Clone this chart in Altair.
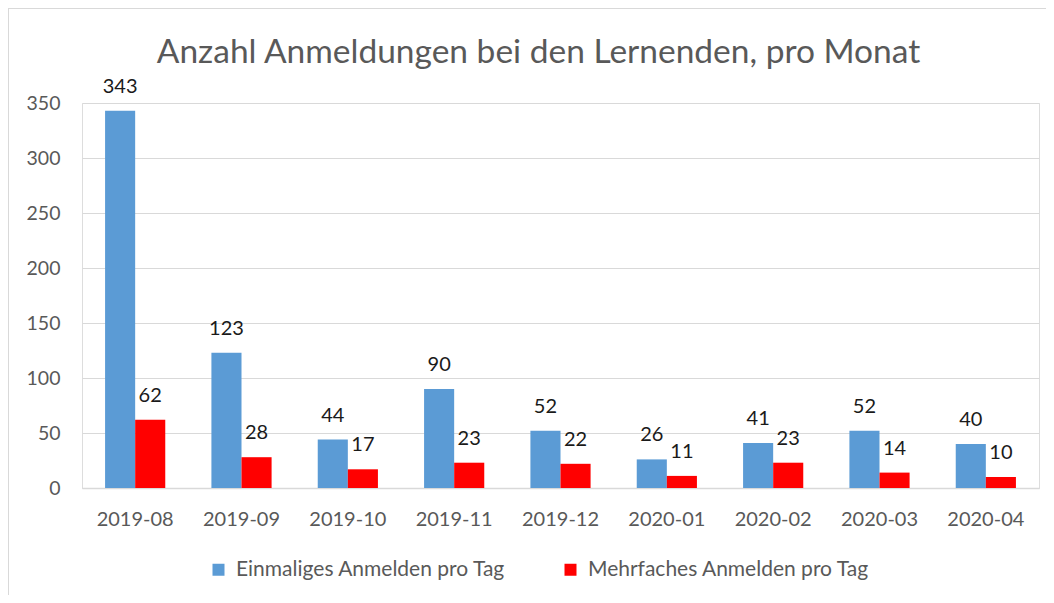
import altair as alt
import pandas as pd

months = ["2019-08", "2019-09", "2019-10", "2019-11", "2019-12",
          "2020-01", "2020-02", "2020-03", "2020-04"]
einmalig = [343, 123, 44, 90, 52, 26, 41, 52, 40]
mehrfach = [62, 28, 17, 23, 22, 11, 23, 14, 10]
series = ["Einmaliges Anmelden pro Tag", "Mehrfaches Anmelden pro Tag"]
colors = ["#5B9BD5", "#FF0000"]
y_ticks = [0, 50, 100, 150, 200, 250, 300, 350]
title = "Anzahl Anmeldungen bei den Lernenden, pro Monat"

rows = []
for m, a, b in zip(months, einmalig, mehrfach):
    rows.append({"Monat": m, "Serie": series[0], "Wert": a})
    rows.append({"Monat": m, "Serie": series[1], "Wert": b})
df = pd.DataFrame(rows)

FONT = "Lato"
W, H = 957, 385
PL, PT, PR, PB = 74, 95, 7, 107

x_enc = alt.X("Monat:N", sort=months,
              scale=alt.Scale(paddingInner=0.434, paddingOuter=0.217),
              axis=alt.Axis(title=None, labelAngle=0, labelFontSize=20,
                            labelColor="#595959", labelPadding=21, ticks=False,
                            tickSize=0, domainColor="#d9d9d9", domainWidth=1.5,
                            grid=False, labelFont=FONT))
xoff = alt.XOffset("Serie:N", sort=series)
y_enc = alt.Y("Wert:Q", scale=alt.Scale(domain=[0, 350]),
              axis=alt.Axis(values=y_ticks, title=None, domain=False, ticks=False,
                            tickSize=0, labelFontSize=19.5, labelColor="#595959",
                            labelPadding=22, gridColor="#d9d9d9", gridWidth=1.2,
                            labelFont=FONT))

base = alt.Chart(df)

bars = base.mark_bar().encode(
    x=x_enc, xOffset=xoff, y=y_enc,
    color=alt.Color("Serie:N", sort=series,
                    scale=alt.Scale(domain=series, range=colors),
                    legend=alt.Legend(title=None, orient="none", legendX=126,
                                      legendY=456, direction="horizontal",
                                      symbolType="square", symbolSize=144,
                                      symbolStrokeWidth=0, labelFontSize=21,
                                      labelColor="#595959", labelOffset=7,
                                      columnPadding=54, padding=0,
                                      labelLimit=500, labelFont=FONT)),
)

labels = base.mark_text(baseline="alphabetic", dy=-18, fontSize=20,
                        color="#1a1a1a", font=FONT).encode(
    x=alt.X("Monat:N", sort=months), xOffset=xoff, y="Wert:Q",
    text="Wert:Q")

border_top = alt.Chart(df).mark_rule(color="#d9d9d9", strokeWidth=1.5).encode(
    x=alt.value(-PL), x2=alt.value(W + PR), y=alt.value(-PT))
border_left = alt.Chart(df).mark_rule(color="#d9d9d9", strokeWidth=1.5).encode(
    x=alt.value(-PL), y=alt.value(-PT), y2=alt.value(H + PB))

chart = alt.layer(bars, labels, border_top, border_left).properties(
    width=W, height=H,
    title=alt.TitleParams(title, fontSize=33.5, color="#595959", font=FONT,
                          fontWeight="normal", anchor="middle", frame="group",
                          dx=-22, baseline="alphabetic", offset=-89),
    autosize=alt.AutoSizeParams(type="none"),
    padding={"left": PL, "top": PT, "right": PR, "bottom": PB},
).configure_view(stroke=None).configure(background="white")

chart.save("out.html", embed_options={"renderer": "svg", "actions": False})
